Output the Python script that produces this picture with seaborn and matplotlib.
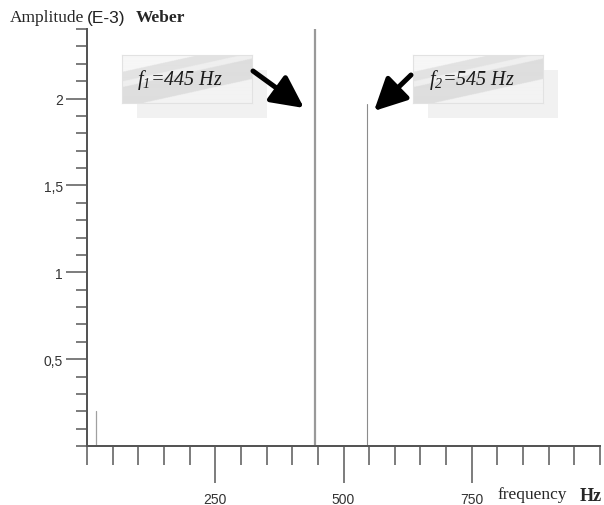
import numpy as np
import pandas as pd
import seaborn as sns
import matplotlib
matplotlib.use("Agg")
import matplotlib.pyplot as plt
from matplotlib.ticker import FixedLocator, MultipleLocator

# ---- data ----
peak_freqs = [17, 445, 545]           # Hz
peak_amps = [0.20, 2.40, 1.97]        # E-3 Weber
peak_widths = [0.9, 1.6, 0.8]
peak_colors = ["#a0a0a0", "#999999", "#8c8c8c"]
x_major = [250, 500, 750]
x_major_labels = ["250", "500", "750"]
y_major = [0.5, 1.0, 1.5, 2.0]
y_major_labels = ["0,5", "1", "1,5", "2"]
annotations = [r"$f_1$=445 Hz", r"$f_2$=545 Hz"]

sns.set_style("white")
plt.rcParams["mathtext.fontset"] = "custom"
plt.rcParams["mathtext.it"] = "Liberation Serif:italic"
plt.rcParams["mathtext.rm"] = "Liberation Serif:italic"

PT = 0.72  # points per pixel at 100 dpi
W, H = 604, 506
fig = plt.figure(figsize=(W / 100, H / 100), dpi=100)
x0, x1 = 87, 600
y0, y1 = 447, 30
ax = fig.add_axes([x0 / W, 1 - y0 / H, (x1 - x0) / W, (y0 - y1) / H])

rows = []
for i, (f, a) in enumerate(zip(peak_freqs, peak_amps)):
    rows.append({"freq": f, "amp": 0.0, "peak": i})
    rows.append({"freq": f, "amp": a, "peak": i})
df = pd.DataFrame(rows)
for i in range(len(peak_freqs)):
    sns.lineplot(data=df[df.peak == i], x="freq", y="amp", ax=ax,
                 color=peak_colors[i], lw=peak_widths[i], estimator=None,
                 sort=False, legend=False)

ax.set_xlim(0, 1000)
ax.set_ylim(0, 2.4)
ax.set_xlabel("")
ax.set_ylabel("")

for s in ["top", "right"]:
    ax.spines[s].set_visible(False)
for s in ["left", "bottom"]:
    ax.spines[s].set_color("#555555")
    ax.spines[s].set_linewidth(2 * PT)

ax.xaxis.set_major_locator(FixedLocator(x_major))
ax.set_xticklabels(x_major_labels, family="Liberation Sans", fontsize=10, color="#333333")
ax.xaxis.set_minor_locator(MultipleLocator(50))
ax.tick_params(axis="x", which="major", direction="out", length=37 * PT, width=1.5 * PT,
               color="#555555", pad=9 * PT, bottom=True)
ax.tick_params(axis="x", which="minor", direction="out", length=19 * PT, width=1.5 * PT,
               color="#555555", bottom=True)

ax.yaxis.set_major_locator(FixedLocator(y_major))
ax.set_yticklabels(y_major_labels, family="Liberation Sans", fontsize=10, color="#333333")
ax.yaxis.set_minor_locator(MultipleLocator(0.1))
ax.tick_params(axis="y", which="major", direction="out", length=21 * PT, width=1.5 * PT,
               color="#555555", pad=3 * PT, left=True)
ax.tick_params(axis="y", which="minor", direction="out", length=11 * PT, width=1.5 * PT,
               color="#555555", left=True)

# axis titles
fig.text(10 / W, 1 - 18 / H, "Amplitude", family="Liberation Serif", fontsize=12.5, va="center")
fig.text(87 / W, 1 - 18 / H, "(E-3)", family="Liberation Sans", fontsize=12.5,
         va="center", color="#222222")
fig.text(136 / W, 1 - 18 / H, "Weber", family="Liberation Serif", fontsize=12.5,
         weight="bold", va="center")
fig.text(497 / W, 1 - 495 / H, "frequency", family="Liberation Serif", fontsize=12.5, va="center")
fig.text(580 / W, 1 - 497 / H, "Hz", family="Liberation Serif", fontsize=13,
         weight="bold", va="center")

# annotation boxes with shadows and diagonal sheen
def make_box(bx0, by0, bx1, by1, label, tx):
    sh = fig.add_axes([(bx0 + 15) / W, 1 - (by1 + 15) / H, (bx1 - bx0) / W, (by1 - by0) / H])
    sh.set_facecolor("#f1f1f1")
    sh.set_xticks([]); sh.set_yticks([])
    for s in sh.spines.values():
        s.set_visible(False)
    bax = fig.add_axes([bx0 / W, 1 - by1 / H, (bx1 - bx0) / W, (by1 - by0) / H])
    xx, yy = np.meshgrid(np.linspace(0, 1, 260), np.linspace(1, 0, 100))
    # diagonal stripes running from lower-left to upper-right
    d = yy - (0.3 + 0.6 * xx)
    img = np.select(
        [d > 0.35, d > 0.15, d > 0.03, d > -0.4],
        [0.965, 0.885, 0.935, 0.87],
        default=0.95)
    bax.imshow(img, cmap="gray", vmin=0, vmax=1, aspect="auto", extent=[0, 1, 0, 1],
               origin="upper", interpolation="bilinear")
    bax.set_xlim(0, 1); bax.set_ylim(0, 1)
    bax.set_xticks([]); bax.set_yticks([])
    for s in bax.spines.values():
        s.set_color("#e2e2e2"); s.set_linewidth(0.8)
    bax.text((tx - bx0) / (bx1 - bx0), 0.5, label, family="Liberation Serif", style="italic",
             fontsize=14.5, va="center", ha="left", color="#1a1a1a")

make_box(122, 56, 252, 104, annotations[0], 137)
make_box(413, 56, 543, 104, annotations[1], 429)

# arrows (figure pixel coords)
def arrow(xs, ys, xe, ye):
    fig.patches.append(matplotlib.patches.FancyArrowPatch(
        (xs / W, 1 - ys / H), (xe / W, 1 - ye / H), transform=fig.transFigure,
        arrowstyle="-|>,head_length=14,head_width=7", mutation_scale=1.4,
        lw=3.6, color="black", shrinkA=0, shrinkB=0))

arrow(253, 72, 304, 109)
arrow(411, 76, 374, 112)

fig.savefig("out.png", dpi=100)
